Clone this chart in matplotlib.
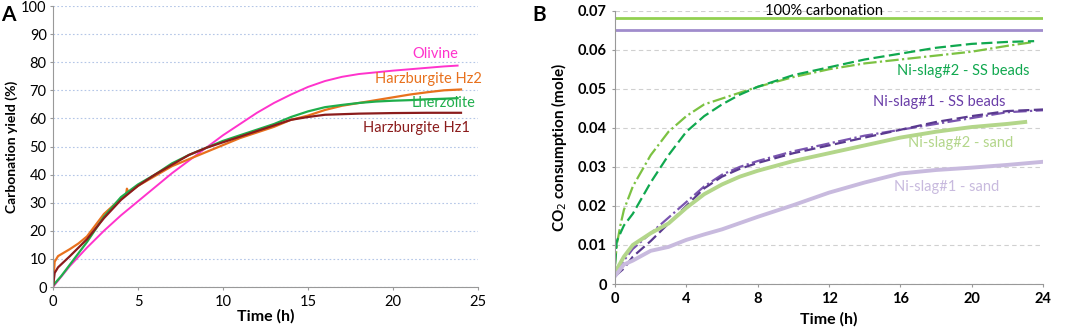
import numpy as np
import matplotlib
matplotlib.use('Agg')
from matplotlib import pyplot as plt

plt.rcParams['font.family'] = ['Lato', 'DejaVu Sans']

# ---- panel A data (time h, carbonation yield %)
olivine_t = [0, 1, 2, 3, 4, 5, 6, 7, 8, 9, 10, 11, 12, 13, 14, 15, 16, 17, 17.5, 18, 19, 20, 21, 22, 23, 23.8]
olivine_y = [0, 7.5, 14, 20, 25.5, 30.5, 35.5, 40.5, 45, 49.5, 54, 58, 62, 65.5, 68.5, 71.2, 73.3, 74.8, 75.3, 75.8, 76.4, 77, 77.5, 78, 78.5, 78.8]

lherz_t = [0, 0.5, 1, 2, 3, 4, 5, 6, 7, 8, 9, 10, 11, 12, 13, 14, 15, 16, 17, 18, 19, 20, 21, 22, 23, 23.8]
lherz_y = [0.5, 4, 8, 16, 25, 32, 36.5, 40, 44, 47, 49.5, 52, 54, 56, 58, 60.5, 62.5, 64, 64.8, 65.5, 66, 66.3, 66.5, 66.8, 67, 67.2]

hz1_t = [0, 0.1, 0.3, 1, 2, 3, 4, 5, 6, 7, 8, 9, 10, 11, 12, 13, 14, 15, 16, 17, 18, 20, 22, 24]
hz1_y = [0, 5, 7, 11, 17, 24.5, 31, 36, 40, 43.5, 47, 49.5, 51.5, 53.5, 55.5, 57.5, 59.5, 60.5, 61.3, 61.5, 61.7, 61.9, 62, 62]

hz2_t = [0, 0.1, 0.3, 1, 1.5, 2, 3, 4, 4.3, 4.35, 4.45, 5, 6, 7, 8, 9, 10, 11, 12, 13, 14, 15, 16, 17, 18, 19, 20, 21, 22, 23, 24]
hz2_y = [0, 9, 11, 13.5, 15.5, 18, 26, 31.5, 33, 35, 33.5, 36, 39.5, 43, 45.5, 48, 50.5, 53, 55, 57, 59.5, 61, 63, 64.5, 65.5, 66.5, 67.5, 68.5, 69.3, 70, 70.3]

# ---- panel B data (time h, CO2 consumption mole)
s2b_a_t = [0, 0.1, 0.3, 0.5, 1, 2, 3, 4, 5, 6, 7, 8, 10, 12, 14, 16, 18, 20, 22, 23.5]
s2b_a_y = [0.005, 0.010, 0.015, 0.019, 0.025, 0.033, 0.039, 0.043, 0.046, 0.0475, 0.049, 0.0505, 0.053, 0.055, 0.0565, 0.0575, 0.0585, 0.0595, 0.061, 0.062]
s2b_b_t = [0, 0.1, 0.3, 0.5, 1, 2, 3, 4, 5, 6, 7, 8, 10, 12, 14, 16, 18, 20, 22, 23.5]
s2b_b_y = [0.005, 0.011, 0.013, 0.015, 0.018, 0.026, 0.033, 0.039, 0.043, 0.046, 0.0485, 0.0505, 0.0535, 0.0555, 0.0575, 0.059, 0.0605, 0.0615, 0.062, 0.0622]

s1b_a_t = [0, 0.5, 1, 2, 3, 4, 5, 6, 7, 8, 10, 12, 14, 16, 18, 20, 22, 24]
s1b_a_y = [0.003, 0.006, 0.009, 0.013, 0.017, 0.021, 0.025, 0.028, 0.030, 0.0315, 0.034, 0.036, 0.038, 0.0395, 0.041, 0.0425, 0.044, 0.0445]
s1b_b_t = [0, 0.5, 1, 2, 3, 4, 5, 6, 7, 8, 10, 12, 14, 16, 18, 20, 22, 24]
s1b_b_y = [0.002, 0.004, 0.007, 0.011, 0.0155, 0.020, 0.0245, 0.0275, 0.0295, 0.031, 0.0335, 0.0355, 0.0375, 0.0395, 0.0415, 0.043, 0.0443, 0.0447]

s2s_t = [0, 0.5, 1, 2, 3, 4, 5, 6, 7, 8, 10, 12, 14, 16, 18, 20, 22, 23]
s2s_y = [0.003, 0.007, 0.010, 0.013, 0.0155, 0.0195, 0.023, 0.0255, 0.0275, 0.029, 0.0315, 0.0335, 0.0355, 0.0375, 0.039, 0.0402, 0.041, 0.0415]

s1s_t = [0, 0.5, 1, 2, 3, 4, 5, 6, 8, 10, 12, 14, 16, 18, 20, 22, 24]
s1s_y = [0.002, 0.005, 0.006, 0.0085, 0.0095, 0.0113, 0.0127, 0.014, 0.0172, 0.0202, 0.0234, 0.026, 0.0283, 0.0292, 0.0298, 0.0305, 0.0313]

full_green = 0.068
full_purple = 0.065

fig = plt.figure(figsize=(10.72, 3.34), dpi=100)

# ---------------- panel A
ax1 = fig.add_axes([0.0494, 0.1407, 0.3965, 0.8413])
ax1.plot(olivine_t, olivine_y, color='#ff33cc', lw=1.4)
ax1.plot(hz2_t, hz2_y, color='#e8711d', lw=1.6)
ax1.plot(lherz_t, lherz_y, color='#1fae4b', lw=1.6)
ax1.plot(hz1_t, hz1_y, color='#8b1c1c', lw=1.6)
ax1.set_xlim(0, 25)
ax1.set_ylim(0, 100)
ax1.set_xticks(range(0, 26, 5))
ax1.set_yticks(range(0, 101, 10))
ax1.grid(axis='y', color='#b4c6e7', ls=(0, (1.5, 2)), lw=0.8)
ax1.set_axisbelow(True)
for s in ['top', 'right']:
    ax1.spines[s].set_visible(False)
for s in ['left', 'bottom']:
    ax1.spines[s].set_color('#999999')
ax1.tick_params(colors='#999999', labelcolor='black', labelsize=10.5, length=2.5)
ax1.tick_params(axis='y', pad=2)
ax1.set_xlabel('Time (h)', fontsize=11.5, fontweight='bold', labelpad=0)
ax1.set_ylabel('Carbonation yield (%)', fontsize=10, fontweight='bold', labelpad=2)
ax1.text(22.5, 83, 'Olivine', color='#ff33cc', fontsize=10.5, ha='center', va='center')
ax1.text(22.1, 74, 'Harzburgite Hz2', color='#e8711d', fontsize=10.5, ha='center', va='center')
ax1.text(23.0, 65.4, 'Lherzolite', color='#1fae4b', fontsize=10.5, ha='center', va='center')
ax1.text(21.4, 56.5, 'Harzburgite Hz1', color='#8b1c1c', fontsize=10.5, ha='center', va='center')
fig.text(0.001, 0.985, 'A', fontsize=15, fontweight='bold', va='top')

# ---------------- panel B
ax2 = fig.add_axes([0.5737, 0.1497, 0.3993, 0.8183])
ax2.axhline(full_green, color='#92d050', lw=2)
ax2.axhline(full_purple, color='#a08ccc', lw=2)
ax2.plot(s2b_a_t, s2b_a_y, color='#7cc242', lw=1.6, ls=(0, (6, 1.5, 1, 1.5)))
ax2.plot(s2b_b_t, s2b_b_y, color='#10a84f', lw=1.6, ls=(0, (5, 2)))
ax2.plot(s1b_a_t, s1b_a_y, color='#7a55b0', lw=1.6, ls=(0, (6, 1.5, 1, 1.5)))
ax2.plot(s1b_b_t, s1b_b_y, color='#5a3a8f', lw=1.6, ls=(0, (5, 2)))
ax2.plot(s2s_t, s2s_y, color='#b3d68a', lw=2.8)
ax2.plot(s1s_t, s1s_y, color='#c8bade', lw=2.8)
ax2.set_xlim(0, 24)
ax2.set_ylim(0, 0.07)
ax2.set_xticks(range(0, 25, 4))
ax2.set_yticks(np.arange(0, 0.071, 0.01))
ax2.set_yticklabels(['0', '0.01', '0.02', '0.03', '0.04', '0.05', '0.06', '0.07'])
ax2.grid(axis='y', color='#d0d0d0', ls=(0, (4, 3)), lw=0.8)
ax2.set_axisbelow(True)
for s in ['top', 'right']:
    ax2.spines[s].set_visible(False)
for s in ['left', 'bottom']:
    ax2.spines[s].set_color('#999999')
ax2.tick_params(colors='#999999', labelcolor='black', labelsize=10.5, length=2.5)
for lab in ax2.get_xticklabels() + ax2.get_yticklabels():
    lab.set_fontweight('bold')
ax2.set_xlabel('Time (h)', fontsize=11.5, fontweight='bold', labelpad=4)
ax2.set_ylabel('CO$_2$ consumption (mole)', fontsize=11, fontweight='bold', labelpad=6)
ax2.text(11.7, 0.0698, '100% carbonation', color='black', fontsize=10.5, ha='center', va='center')
ax2.text(19.5, 0.0545, 'Ni-slag#2 - SS beads', color='#10a84f', fontsize=10.5, ha='center', va='center')
ax2.text(18.2, 0.0467, 'Ni-slag#1 - SS beads', color='#6a3ea8', fontsize=10.5, ha='center', va='center')
ax2.text(19.4, 0.0360, 'Ni-slag#2 - sand', color='#b3d68a', fontsize=10.5, ha='center', va='center')
ax2.text(18.6, 0.0248, 'Ni-slag#1 - sand', color='#c8bade', fontsize=10.5, ha='center', va='center')
fig.text(0.497, 0.985, 'B', fontsize=15, fontweight='bold', va='top')

fig.savefig('out.png', dpi=100)
